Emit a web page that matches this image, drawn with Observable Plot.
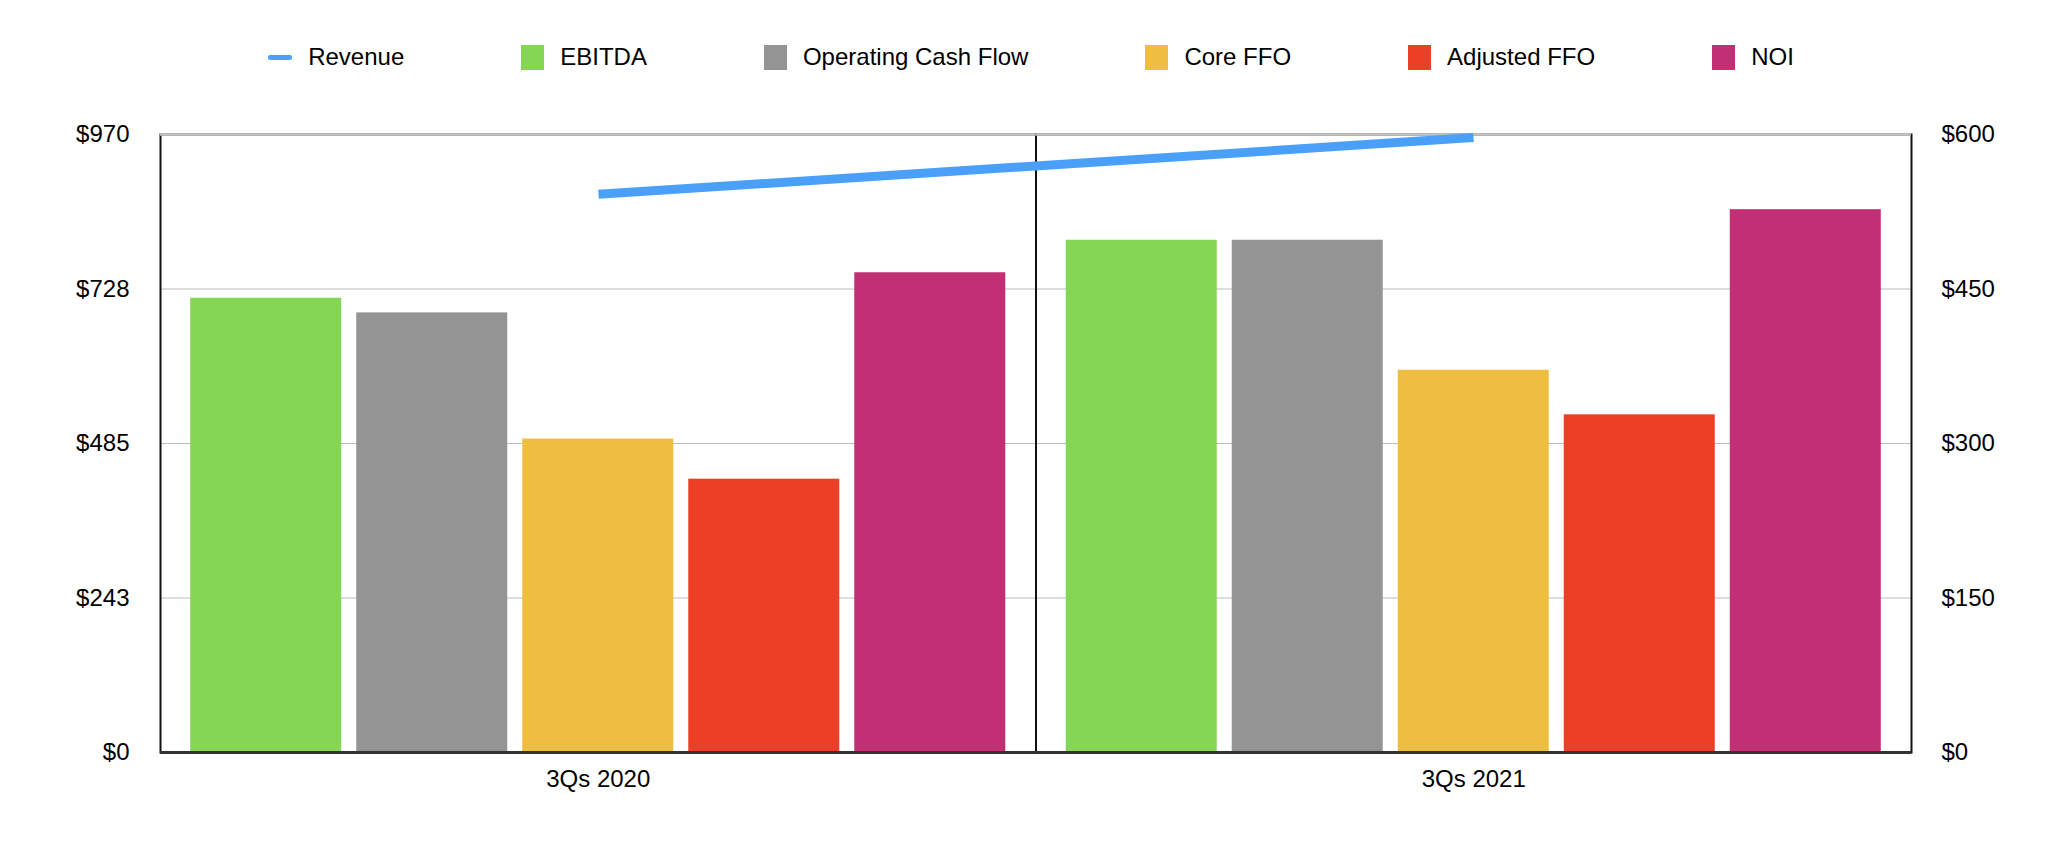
<!DOCTYPE html>
<html>
<head>
<meta charset="utf-8">
<script src="https://cdn.jsdelivr.net/npm/d3@7"></script>
<script src="https://cdn.jsdelivr.net/npm/@observablehq/plot@0.6"></script>
<style>
  html, body { margin: 0; padding: 0; background: #fff; }
  body { width: 2068px; height: 852px; overflow: hidden; font-family: "Liberation Sans", Arial, Helvetica, sans-serif; }
  #legend { height: 100px; display: flex; align-items: center; justify-content: center; gap: 117px; font-size: 24px; color: #000; padding-top: 14px; box-sizing: border-box; padding-right: 6px; }
  .item { display: flex; align-items: center; gap: 16px; white-space: nowrap; }
  .sw { width: 23px; height: 25px; }
  .ln { width: 24px; height: 5px; border-radius: 2px; }
  #chart { position: relative; width: 2068px; height: 752px; }
  #chart svg { position: absolute; left: 0; top: 0; }
</style>
</head>
<body>
<div id="legend"></div>
<div id="chart"></div>
<script>
const periods = ["3Qs 2020", "3Qs 2021"];
const seriesNames = ["EBITDA", "Operating Cash Flow", "Core FFO", "Adjusted FFO", "NOI"];
const seriesColors = ["#84d654", "#949494", "#efbd40", "#eb4025", "#c13074"];
const ebitda = [713, 804];
const operatingCashFlow = [690, 804];
const coreFFO = [492, 600];
const adjustedFFO = [429, 530];
const noi = [753, 852];
const revenue = [542, 597];
const revenueName = "Revenue";
const revenueColor = "#4aa0f8";
const leftTicks = [0, 242.5, 485, 727.5, 970];
const leftTickLabels = ["$0", "$243", "$485", "$728", "$970"];
const rightTicks = [0, 150, 300, 450, 600];
const rightTickLabels = ["$0", "$150", "$300", "$450", "$600"];

const seriesValues = [ebitda, operatingCashFlow, coreFFO, adjustedFFO, noi];
const rows = [];
periods.forEach((p, i) => seriesNames.forEach((s, j) => rows.push({period: p, series: s, value: seriesValues[j][i]})));
const revenueRows = periods.map((p, i) => ({period: p, value: revenue[i]}));

// Legend
const legend = document.getElementById("legend");
const addItem = (name, color, isLine) => {
  const it = document.createElement("div"); it.className = "item";
  const sw = document.createElement("div"); sw.className = isLine ? "ln" : "sw"; sw.style.background = color;
  const tx = document.createElement("span"); tx.textContent = name;
  it.appendChild(sw); it.appendChild(tx); legend.appendChild(it);
};
addItem(revenueName, revenueColor, true);
seriesNames.forEach((s, j) => addItem(s, seriesColors[j], false));

const W = 2068, H = 752;
const margins = {marginTop: 34, marginBottom: 100, marginLeft: 160, marginRight: 157};
const font = {fontFamily: "'Liberation Sans', Arial, Helvetica, sans-serif", fontSize: "24px", color: "#000", background: "transparent", overflow: "visible"};

const bars = Plot.plot({
  width: W, height: H, ...margins,
  style: font,
  facet: {data: rows, x: "period"},
  fx: {domain: periods, padding: 0, round: false, axis: "bottom", tickSize: 0, tickPadding: 17, label: null},
  x: {domain: seriesNames, paddingInner: 0.0904, paddingOuter: 0.182, align: 0.5, round: false, axis: null},
  y: {domain: [0, 970], ticks: leftTicks, tickFormat: d => leftTickLabels[leftTicks.indexOf(d)], tickSize: 0, tickPadding: 31, label: null},
  color: {domain: seriesNames, range: seriesColors},
  marks: [
    Plot.ruleY(leftTicks.slice(1, -1), {stroke: "#bdbdbd", strokeWidth: 1}),
    Plot.barY(rows, {x: "series", y: "value", fill: "series"}),
    Plot.frame({stroke: "#111", strokeWidth: 2}),
    Plot.ruleY(leftTicks.slice(-1), {stroke: "#c4c4c4", strokeWidth: 2.6}),
    Plot.ruleY([0], {stroke: "#333", strokeWidth: 3})
  ]
});

const line = Plot.plot({
  width: W, height: H, ...margins,
  style: font,
  x: {type: "point", domain: periods, padding: 0.5, axis: null},
  y: {domain: [0, 600], ticks: rightTicks, tickFormat: d => rightTickLabels[rightTicks.indexOf(d)], axis: "right", tickSize: 0, tickPadding: 30, label: null},
  marks: [
    Plot.line(revenueRows, {x: "period", y: "value", stroke: revenueColor, strokeWidth: 9, strokeLinecap: "butt"})
  ]
});

const chart = document.getElementById("chart");
chart.appendChild(bars);
chart.appendChild(line);
</script>
</body>
</html>
